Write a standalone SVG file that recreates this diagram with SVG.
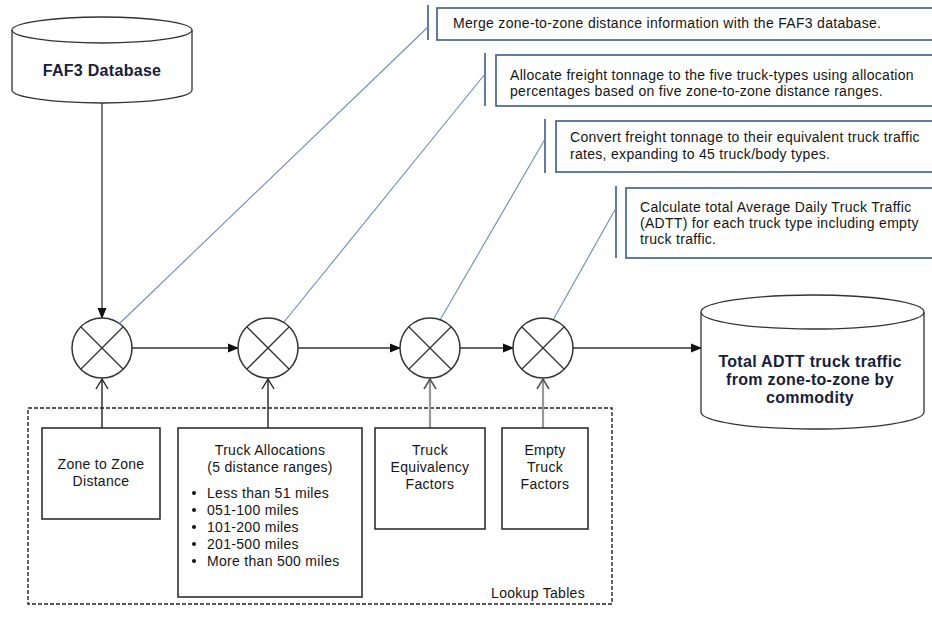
<svg xmlns="http://www.w3.org/2000/svg" width="932" height="617" viewBox="0 0 932 617">
<defs>
<marker id="fill" markerWidth="11" markerHeight="10" refX="10" refY="5" orient="auto" markerUnits="userSpaceOnUse">
<path d="M0,0.5 L11,5 L0,9.5 Z" fill="#111"/>
</marker>
<marker id="openDark" markerWidth="14" markerHeight="14" refX="12" refY="7" orient="auto" markerUnits="userSpaceOnUse">
<path d="M2,1 L12,7 L2,13" fill="none" stroke="#222" stroke-width="1.4"/>
</marker>
<marker id="openGrey" markerWidth="14" markerHeight="14" refX="12" refY="7" orient="auto" markerUnits="userSpaceOnUse">
<path d="M2,1 L12,7 L2,13" fill="none" stroke="#555" stroke-width="1.6"/>
</marker>
</defs>
<style>
.t{font-family:"Liberation Sans",Arial,sans-serif;font-size:14px;letter-spacing:0.3px;fill:#151515}
.c{text-anchor:middle}
.b{font-family:"Liberation Sans",Arial,sans-serif;font-weight:bold;fill:#16203a;text-anchor:middle;letter-spacing:0.3px}
.box{fill:#fff;stroke:#222;stroke-width:1.5}
.cyl{fill:#fff;stroke:#333;stroke-width:1.3}
.circ{fill:#fff;stroke:#333;stroke-width:1.5}
.x{stroke:#333;stroke-width:1.3}
.flow{stroke:#333;stroke-width:1.3;fill:none}
.up{stroke:#222;stroke-width:1.4;fill:none}
.upg{stroke:#999;stroke-width:2.2;fill:none}
.call{fill:#fff;stroke:#3d5a88;stroke-width:1.6}
.brk{stroke:#3d5a88;stroke-width:1.6}
.lead{stroke:#6d8bbb;stroke-width:1.1}
</style>
<rect width="932" height="617" fill="#fff"/>

<g id="lookup">
<rect x="28" y="408" width="584" height="196" fill="none" stroke="#222" stroke-width="1.4" stroke-dasharray="4,2"/>
<text class="t" x="585" y="598" text-anchor="end">Lookup Tables</text>
</g>

<g id="callouts">
<g id="callout1">
<rect class="call" x="437" y="8" width="520" height="32"/>
<line class="brk" x1="428" y1="5" x2="428" y2="40"/>
<text class="t" x="453" y="28">Merge zone-to-zone distance information with the FAF3 database.</text>
</g>
<g id="callout2">
<rect class="call" x="496" y="55" width="460" height="51"/>
<line class="brk" x1="485" y1="53" x2="485" y2="106"/>
<text class="t" x="510" y="80">Allocate freight tonnage to the five truck-types using allocation</text>
<text class="t" x="510" y="96">percentages based on five zone-to-zone distance ranges.</text>
</g>
<g id="callout3">
<rect class="call" x="556" y="121" width="400" height="51"/>
<line class="brk" x1="545" y1="119" x2="545" y2="173"/>
<text class="t" x="570" y="142">Convert freight tonnage to their equivalent truck traffic</text>
<text class="t" x="570" y="159">rates, expanding to 45 truck/body types.</text>
</g>
<g id="callout4">
<rect class="call" x="626" y="188" width="330" height="70"/>
<line class="brk" x1="616" y1="186" x2="616" y2="258"/>
<text class="t" x="640" y="212">Calculate total Average Daily Truck Traffic</text>
<text class="t" x="640" y="228">(ADTT) for each truck type including empty</text>
<text class="t" x="640" y="244">truck traffic.</text>
</g>
</g>

<g id="connectors">
<line class="lead" x1="119" y1="324" x2="428" y2="27"/>
<line class="lead" x1="284" y1="322" x2="485" y2="74"/>
<line class="lead" x1="440" y1="320" x2="545" y2="139"/>
<line class="lead" x1="553" y1="320" x2="616" y2="208"/>
<line class="flow" x1="102" y1="103" x2="102" y2="318" marker-end="url(#fill)"/>
<line class="flow" x1="132" y1="348" x2="238" y2="348" marker-end="url(#fill)"/>
<line class="flow" x1="298" y1="348" x2="400" y2="348" marker-end="url(#fill)"/>
<line class="flow" x1="460" y1="348" x2="513" y2="348" marker-end="url(#fill)"/>
<line class="flow" x1="573" y1="348" x2="701" y2="348" marker-end="url(#fill)"/>
<line class="up" x1="102" y1="428" x2="102" y2="379" marker-end="url(#openDark)"/>
<line class="up" x1="268" y1="428" x2="268" y2="379" marker-end="url(#openDark)"/>
<line class="upg" x1="430" y1="428" x2="430" y2="379" marker-end="url(#openGrey)"/>
<line class="upg" x1="543" y1="428" x2="543" y2="379" marker-end="url(#openGrey)"/>
</g>

<g id="faf3">
<path class="cyl" d="M12,30 V90 A90,13 0 0 0 192,90 V30"/>
<ellipse class="cyl" cx="102" cy="30" rx="90" ry="13"/>
<text class="b" x="102" y="76" font-size="16">FAF3 Database</text>
</g>

<g id="merge1">
<circle class="circ" cx="102" cy="348" r="30"/>
<line class="x" x1="81" y1="327" x2="123" y2="369"/>
<line class="x" x1="81" y1="369" x2="123" y2="327"/>
</g>
<g id="merge2">
<circle class="circ" cx="268" cy="348" r="30"/>
<line class="x" x1="247" y1="327" x2="289" y2="369"/>
<line class="x" x1="247" y1="369" x2="289" y2="327"/>
</g>
<g id="merge3">
<circle class="circ" cx="430" cy="348" r="30"/>
<line class="x" x1="409" y1="327" x2="451" y2="369"/>
<line class="x" x1="409" y1="369" x2="451" y2="327"/>
</g>
<g id="merge4">
<circle class="circ" cx="543" cy="348" r="30"/>
<line class="x" x1="522" y1="327" x2="564" y2="369"/>
<line class="x" x1="522" y1="369" x2="564" y2="327"/>
</g>

<g id="output">
<path class="cyl" d="M701,312 V412 A111.5,17 0 0 0 924,412 V312"/>
<ellipse class="cyl" cx="812.5" cy="312" rx="111.5" ry="17"/>
<text class="b" x="810" y="367" font-size="16">Total ADTT truck traffic</text>
<text class="b" x="810" y="385" font-size="16">from zone-to-zone by</text>
<text class="b" x="810" y="403" font-size="16">commodity</text>
</g>

<g id="zone">
<rect class="box" x="42" y="428" width="118" height="91"/>
<text class="t c" x="101" y="469">Zone to Zone</text>
<text class="t c" x="101" y="486">Distance</text>
</g>

<g id="alloc">
<rect class="box" x="178" y="428" width="184" height="169"/>
<text class="t c" x="270" y="455">Truck Allocations</text>
<text class="t c" x="270" y="472">(5 distance ranges)</text>
<circle cx="194" cy="493" r="2" fill="#111"/><text class="t" x="207" y="498">Less than 51 miles</text>
<circle cx="194" cy="510" r="2" fill="#111"/><text class="t" x="207" y="515">051-100 miles</text>
<circle cx="194" cy="527" r="2" fill="#111"/><text class="t" x="207" y="532">101-200 miles</text>
<circle cx="194" cy="544" r="2" fill="#111"/><text class="t" x="207" y="549">201-500 miles</text>
<circle cx="194" cy="561" r="2" fill="#111"/><text class="t" x="207" y="566">More than 500 miles</text>
</g>

<g id="equiv">
<rect class="box" x="375" y="428" width="110" height="101"/>
<text class="t c" x="430" y="455">Truck</text>
<text class="t c" x="430" y="472">Equivalency</text>
<text class="t c" x="430" y="489">Factors</text>
</g>

<g id="empty">
<rect class="box" x="502" y="428" width="86" height="101"/>
<text class="t c" x="545" y="455">Empty</text>
<text class="t c" x="545" y="472">Truck</text>
<text class="t c" x="545" y="489">Factors</text>
</g>
</svg>
